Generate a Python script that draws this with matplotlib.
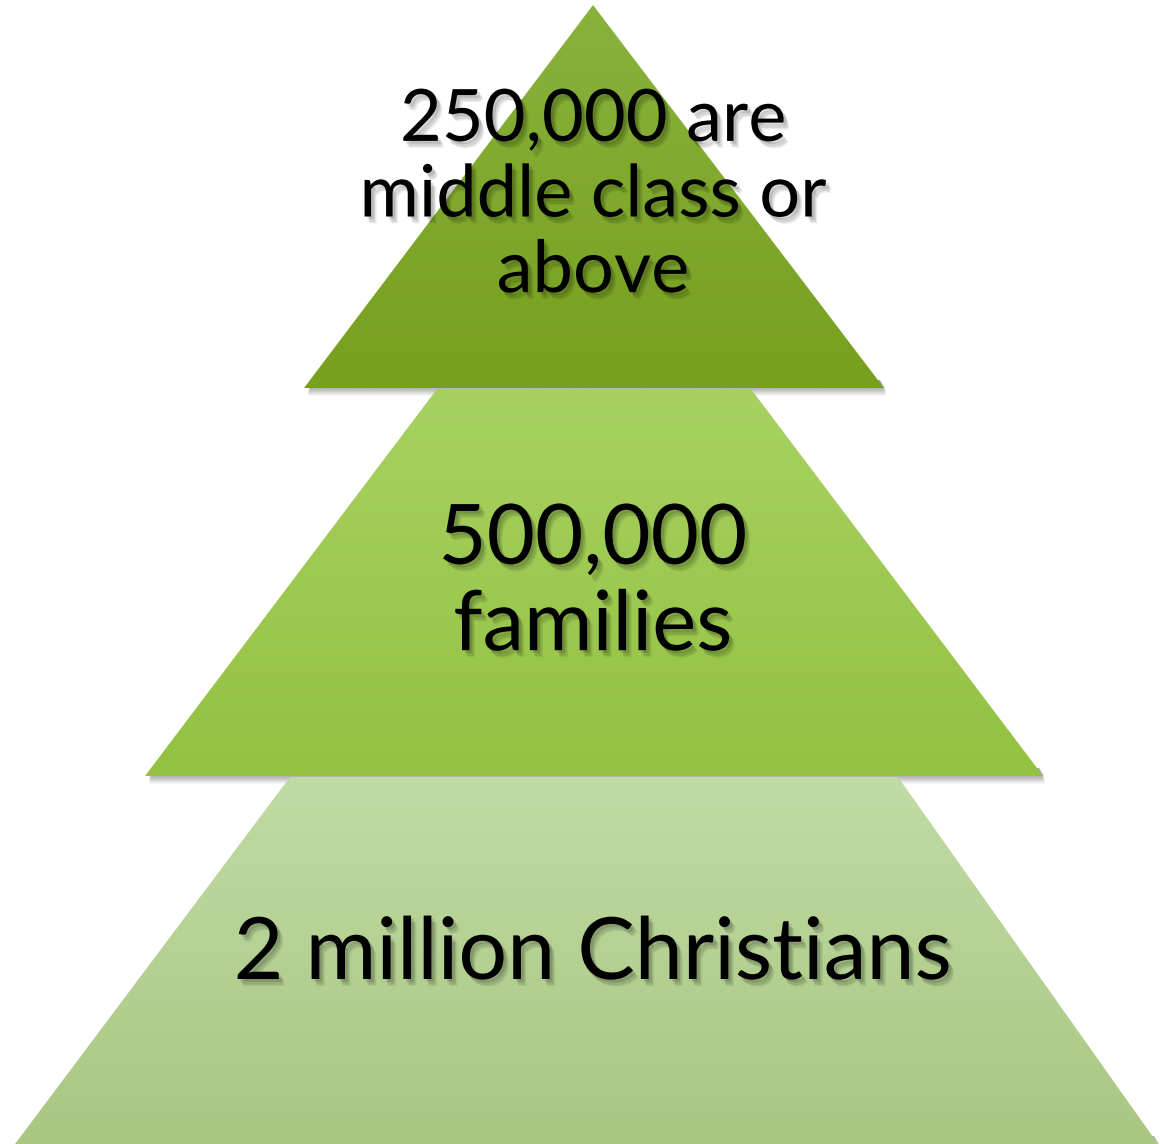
import numpy as np
import matplotlib.pyplot as plt
from matplotlib.patches import Polygon
import matplotlib.patheffects as pe

# tier labels, top to bottom
labels = ["250,000 are\nmiddle class or\nabove", "500,000\nfamilies", "2 million Christians"]

# tier outlines in pixel space (y grows downward): top-left, top-right, bottom-right, bottom-left
tiers = [
    [(593, 5), (593, 5), (884, 388), (304, 388)],
    [(437, 389), (751, 389), (1043, 776), (145, 776)],
    [(290, 777), (898, 777), (1158, 1144), (15, 1144)],
]
# gradient colours (top, bottom) per tier
grad = [
    ("#88b23c", "#77a01e"),
    ("#a7d262", "#93c141"),
    ("#c0dba4", "#a9c781"),
]
label_y = [196, 584, 955]
label_size = [52, 60, 62]
label_spacing = [1.2, 1.17, 1.0]

W, H = 1160, 1144
fig = plt.figure(figsize=(W / 100, H / 100), dpi=100)
ax = fig.add_axes([0, 0, 1, 1])
ax.set_xlim(0, W)
ax.set_ylim(H, 0)
ax.axis("off")


def hex2rgb(h):
    return np.array([int(h[i:i + 2], 16) / 255 for i in (1, 3, 5)])


# soft shadows under each tier's lower edge
for pts in tiers:
    (x0, y0), (x1, _), (x2, y2), (x3, _) = pts
    for k in range(1, 9):
        off = k * 1.2
        sh = Polygon([(x3 + 4, y2 - 2 + off), (x2 + 2, y2 - 2 + off),
                      (x2 - 4, y2 - 8), (x3 + 8, y2 - 8)],
                     closed=True, facecolor="black", edgecolor="none",
                     alpha=0.05, zorder=1)
        ax.add_patch(sh)

for i, pts in enumerate(tiers):
    poly = Polygon(pts, closed=True, facecolor="none", edgecolor="none", zorder=2)
    ax.add_patch(poly)
    y_top, y_bot = pts[0][1], pts[2][1]
    c0, c1 = hex2rgb(grad[i][0]), hex2rgb(grad[i][1])
    t = np.linspace(0, 1, 200)[:, None, None]
    img = c0 * (1 - t) + c1 * t
    img = np.repeat(img, 2, axis=1)
    im = ax.imshow(img, extent=(0, W, y_bot, y_top), aspect="auto",
                   interpolation="bilinear", zorder=2 + i * 0.1)
    im.set_clip_path(poly)

# blurred-looking drop shadow for the labels
shadow = [pe.SimplePatchShadow(offset=(4, -5), shadow_rgbFace="black", alpha=0.07),
          pe.SimplePatchShadow(offset=(3, -4), shadow_rgbFace="black", alpha=0.1),
          pe.SimplePatchShadow(offset=(2, -2), shadow_rgbFace="black", alpha=0.12),
          pe.Normal()]
for lab, y, fs, ls in zip(labels, label_y, label_size, label_spacing):
    ax.text(593, y, lab, ha="center", va="center", fontsize=fs,
            family="Lato", color="black", linespacing=ls,
            path_effects=shadow, zorder=5)

fig.savefig("out.png", dpi=100)
